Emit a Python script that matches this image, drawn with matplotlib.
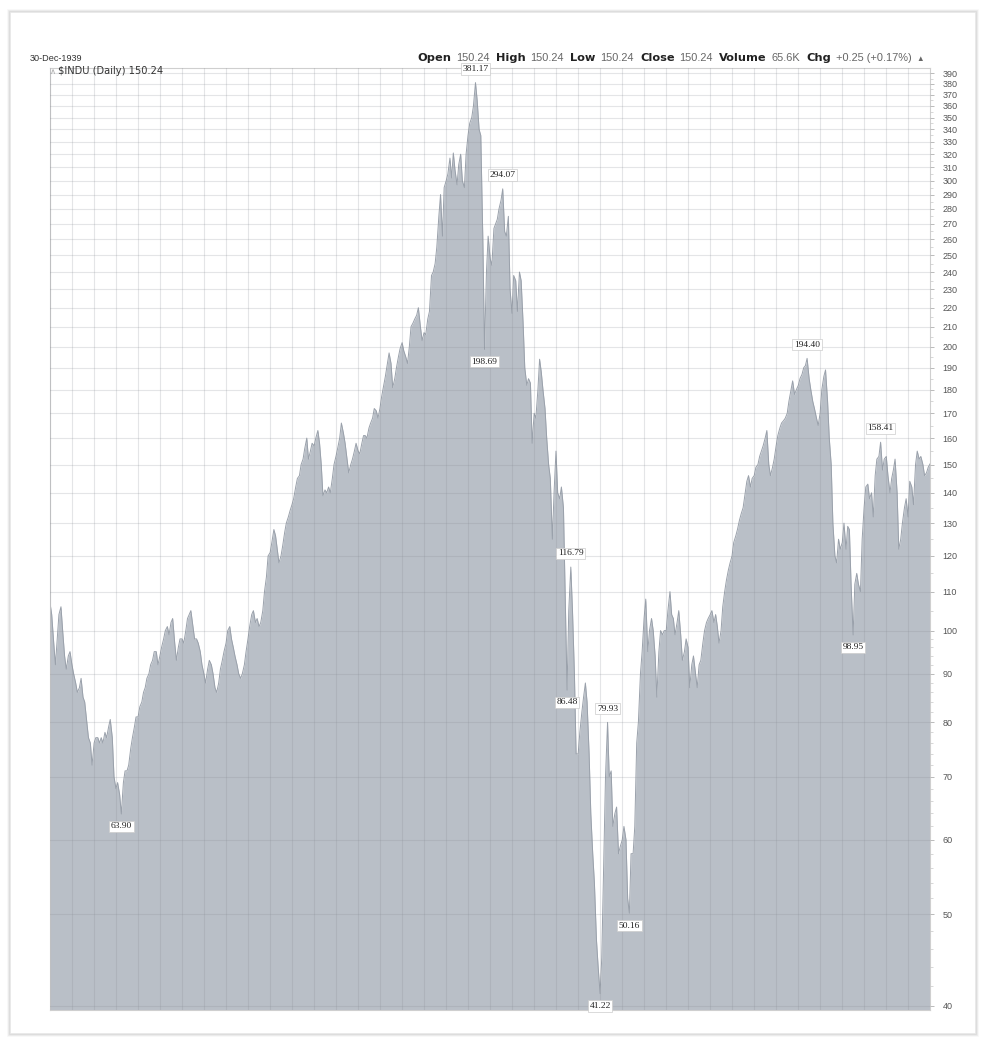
import pandas as pd
import matplotlib
matplotlib.use("Agg")
import matplotlib.pyplot as plt
import matplotlib.dates as mdates
from matplotlib.patches import Rectangle
from matplotlib.text import Annotation
from matplotlib.ticker import FixedLocator, NullFormatter

W, H = 987, 1046

# $INDU closes, two per month (1st and 15th)
Y1920 = [107, 104, 97, 92, 98, 104, 106, 100, 94, 91, 94, 95, 92, 90, 88, 86, 87, 89, 85, 84, 80, 77, 76, 72]
Y1921 = [76, 77, 77, 76, 77, 76, 78, 77, 79, 80.5, 77, 70, 68, 69, 67, 63.9, 69, 71, 71, 72, 75, 77, 79, 81]
Y1922 = [81, 83, 84, 86, 87, 89, 90, 92, 93, 95, 95, 92, 94, 96, 98, 100, 101, 99, 102, 103, 97, 93, 96, 98]
Y1923 = [98, 97, 100, 103, 104, 105, 101, 98, 98, 97, 95, 92, 90, 88, 91, 93, 92, 90, 87, 86, 88, 91, 93, 95]
Y1924 = [97, 100, 101, 98, 96, 94, 92, 90, 89, 90, 92, 95, 98, 101, 104, 105, 102, 103, 101, 102, 105, 110, 114, 120]
Y1925 = [121, 124, 128, 126, 122, 118, 120, 123, 127, 130, 132, 134, 136, 138, 142, 145, 146, 150, 152, 156, 160, 152, 155, 158]
Y1926 = [157, 160, 163, 158, 150, 139, 141, 140, 142, 140, 145, 150, 153, 156, 160, 166, 162, 158, 152, 147, 150, 152, 155, 158]
Y1927 = [155, 154, 158, 161, 161, 160, 164, 166, 168, 172, 171, 168, 172, 177, 182, 186, 192, 197, 192, 181, 185, 190, 195, 199]
Y1928 = [202, 198, 195, 192, 200, 210, 212, 214, 216, 220, 210, 203, 207, 206, 214, 218, 238, 240, 245, 255, 275, 290, 262, 295]
Y1929 = [300, 305, 317, 302, 321, 308, 297, 312, 320, 300, 295, 320, 335, 345, 350, 360, 381.17, 365, 340, 335, 260, 198.69, 240, 262]
Y1930 = [248, 244, 267, 270, 273, 280, 286, 294.07, 265, 262, 275, 230, 217, 238, 235, 218, 240, 235, 212, 190, 182, 185, 183, 158]
Y1931 = [170, 168, 180, 194, 188, 180, 172, 160, 150, 145, 125, 140, 155, 140, 138, 142, 135, 110, 86.48, 105, 116.79, 105, 90, 74]
Y1932 = [74, 78, 82, 85, 88, 84, 74, 64, 58, 54, 47, 44, 41.22, 45, 57, 70, 79.93, 70, 71, 62, 64, 65, 58, 59]
Y1933 = [60, 62, 60, 52, 50.16, 58, 58, 62, 76, 80, 90, 95, 103, 108, 95, 100, 103, 100, 94, 85, 95, 100, 99, 100]
Y1934 = [100, 105, 110, 104, 103, 99, 102, 105, 99, 93, 95, 98, 96, 87, 92, 94, 90, 87, 92, 93, 97, 100, 102, 103]
Y1935 = [104, 105, 102, 104, 101, 97, 100, 106, 110, 113, 116, 118, 120, 124, 126, 128, 131, 133, 135, 139, 144, 146, 142, 145]
Y1936 = [146, 149, 150, 153, 155, 157, 160, 163, 150, 146, 149, 152, 157, 161, 164, 166, 167, 168, 170, 175, 180, 184, 178, 180]
Y1937 = [182, 185, 187, 190, 191, 194.40, 185, 180, 175, 172, 168, 165, 170, 180, 186, 189, 175, 160, 150, 130, 120, 118, 125, 122]
Y1938 = [124, 130, 122, 129, 128, 112, 98.95, 112, 115, 112, 110, 125, 135, 142, 143, 138, 140, 132, 146, 152, 153, 158.41, 148, 152]
Y1939 = [153, 146, 140, 145, 148, 152, 140, 122, 125, 130, 135, 138, 132, 144, 142, 136, 150, 155, 152, 153, 150, 146, 147, 149]
LAST_DATE, LAST_CLOSE = "1939-12-30", 150.24

YEARLY = [Y1920, Y1921, Y1922, Y1923, Y1924, Y1925, Y1926, Y1927, Y1928, Y1929,
          Y1930, Y1931, Y1932, Y1933, Y1934, Y1935, Y1936, Y1937, Y1938, Y1939]

LABEL_DATES = ["1921-08-15", "1929-09-01", "1929-11-15", "1930-04-15", "1931-10-01", "1931-11-01",
               "1932-07-01", "1932-09-01", "1933-03-01", "1937-03-15", "1938-04-01", "1938-11-15"]
LABEL_VALUES = [63.90, 381.17, 198.69, 294.07, 86.48, 116.79, 41.22, 79.93, 50.16, 194.40, 98.95, 158.41]
LABEL_UP = [False, True, False, True, False, True, False, True, False, True, False, True]

YTICKS = list(range(40, 400, 10))
HEADER = [("Open", True), ("150.24", False), ("High", True), ("150.24", False), ("Low", True),
          ("150.24", False), ("Close", True), ("150.24", False), ("Volume", True), ("65.6K", False),
          ("Chg", True), ("+0.25 (+0.17%)", False), ("\u25b2", False)]

FILL = "#b9bfc7"
EDGE = "#9aa1ab"

dates = list(pd.date_range("1920-01-01", "1939-12-31", freq="SMS")) + [pd.Timestamp(LAST_DATE)]
closes = [v for year in YEARLY for v in year] + [LAST_CLOSE]

fig = plt.figure(figsize=(W / 100, H / 100), dpi=100)
fig.patch.set_facecolor("white")

# card frame with a soft shadow
for k, a in enumerate([0.10, 0.06, 0.03]):
    fig.patches.append(Rectangle(((10 - k) / W, (H - 1034 - k) / H), (966 + 2 * k) / W, (1022 + 2 * k) / H,
                                 transform=fig.transFigure, fill=False, ec="black", alpha=a, lw=1.2))

ax = fig.add_axes([50 / W, 36 / H, 880 / W, 942 / H])
ymin, ymax = 39.6, 395
ax.fill_between(dates, closes, ymin, color=FILL, lw=0, zorder=1)
ax.plot(dates, closes, color=EDGE, lw=0.7, zorder=2)
ax.set_yscale("log")
ax.set_ylim(ymin, ymax)
ax.set_xlim(pd.Timestamp("1920-01-01"), pd.Timestamp(LAST_DATE))

ax.yaxis.tick_right()
ax.yaxis.set_major_locator(FixedLocator(YTICKS))
ax.yaxis.set_minor_locator(FixedLocator(list(range(42, 100, 2)) + list(range(105, 395, 10))))
ax.yaxis.set_minor_formatter(NullFormatter())
ax.set_yticklabels([str(t) for t in YTICKS])
ax.tick_params(axis="y", which="major", labelsize=6.5, labelcolor="#555555", color="#b0b0b0",
               length=3, width=0.6, pad=6)
ax.tick_params(axis="y", which="minor", color="#c8c8c8", length=2, width=0.5)
for lab in ax.get_yticklabels():
    lab.set_family("Liberation Sans")

ax.xaxis.set_major_locator(mdates.MonthLocator(bymonth=[1, 7]))
ax.tick_params(axis="x", which="both", length=0, labelbottom=False)

ax.set_axisbelow(False)
ax.grid(True, which="major", color="#878c94", alpha=0.22, lw=0.8, zorder=3)
for s in ax.spines.values():
    s.set_color("#cfcfcf")
    s.set_linewidth(0.8)

for d, v, up in zip(LABEL_DATES, LABEL_VALUES, LABEL_UP):
    ax.annotate("%.2f" % v, xy=(pd.Timestamp(d), v), xytext=(0, 7 if up else -6),
                textcoords="offset points", ha="center", va="bottom" if up else "top",
                fontsize=6.8, family="Liberation Serif", color="#222222", zorder=5,
                bbox=dict(boxstyle="square,pad=0.18", fc="white", ec="#cccccc", lw=0.5))

# header lines
fig.text(30 / W, 1 - 61 / H, "30-Dec-1939", fontsize=6.6, family="Liberation Sans", color="#333333")
fig.text(50 / W, 1 - 74 / H, "\u2227", fontsize=6, color="#aaaaaa")
fig.text(58 / W, 1 - 74 / H, "$INDU (Daily) 150.24", fontsize=7.1, family="DejaVu Sans", color="#333333")

prev = fig.text(417 / W, 1 - 61 / H, HEADER[0][0], fontsize=8.2, weight="bold", family="DejaVu Sans",
                color="#222222")
for s, bold in HEADER[1:]:
    prev = fig.add_artist(Annotation(
        s, xy=(1, 0), xycoords=prev, xytext=(4.6 if bold else 3.4, 0), textcoords="offset points",
        va="bottom", fontsize=8.2 if bold else (5.5 if s == "\u25b2" else 7.9),
        weight="bold" if bold else "normal",
        family="DejaVu Sans" if bold else "Liberation Sans",
        color="#222222" if bold else "#666666"))

fig.savefig("out.png", dpi=100, facecolor="white")
